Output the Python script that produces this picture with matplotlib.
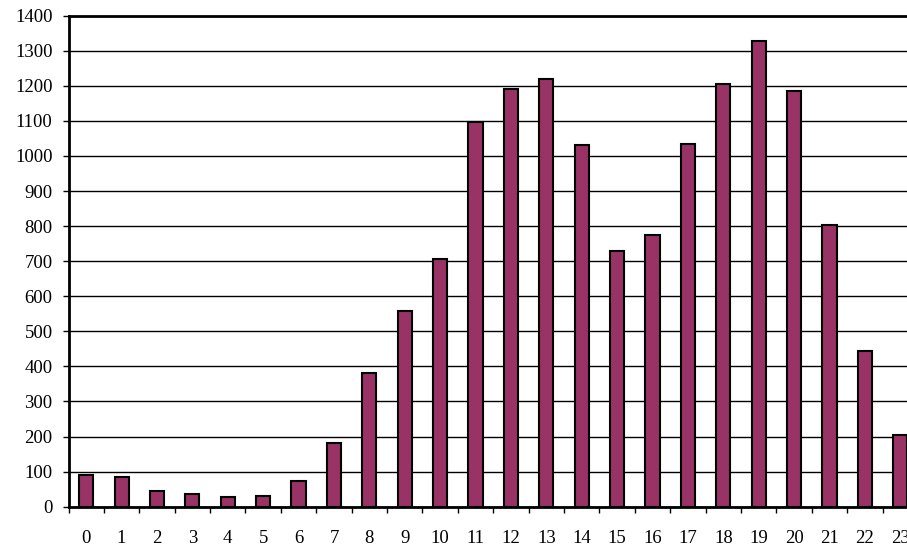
import matplotlib
matplotlib.use("Agg")
import matplotlib.pyplot as plt
from matplotlib.ticker import FixedLocator, MultipleLocator

hours = [str(h) for h in range(24)]
values = [90, 85, 46, 36, 27, 30, 73, 181, 380, 558, 707, 1097,
          1190, 1219, 1031, 730, 775, 1034, 1206, 1327, 1186, 803, 444, 204]

plt.rcParams['font.family'] = ['Liberation Serif', 'DejaVu Serif']

fig = plt.figure(figsize=(9.07, 5.48), dpi=100)
L, B = 68.5 / 907, (548 - 506.7) / 548
W, H = (918 - 68.5) / 907, (506.7 - 15.7) / 548
ax = fig.add_axes([L, B, W, H])

x = list(range(len(values)))
ax.bar(x, values, width=0.4, color='#993366', edgecolor='black', linewidth=1.5, zorder=3)

ax.set_xlim(-0.5, len(values) - 0.5)
ax.set_ylim(0, 1400)
ax.yaxis.set_major_locator(MultipleLocator(100))
ax.grid(axis='y', color='black', linewidth=1.0, zorder=0)
ax.set_axisbelow(True)

ax.set_xticks(x)
ax.set_xticklabels(hours)
ax.xaxis.set_minor_locator(FixedLocator([i - 0.5 for i in range(len(values) + 1)]))
ax.tick_params(axis='x', which='major', length=0, pad=17, labelsize=13.5)
ax.tick_params(axis='x', which='minor', length=4.3, width=1.0, direction='out')
ax.tick_params(axis='y', length=4.3, width=1.0, direction='out', pad=7.2, labelsize=13.5)

for s in ['left', 'top', 'bottom']:
    ax.spines[s].set_linewidth(2.0)
    ax.spines[s].set_color('black')
ax.spines['right'].set_visible(False)

fig.savefig('out.png', dpi=100)
